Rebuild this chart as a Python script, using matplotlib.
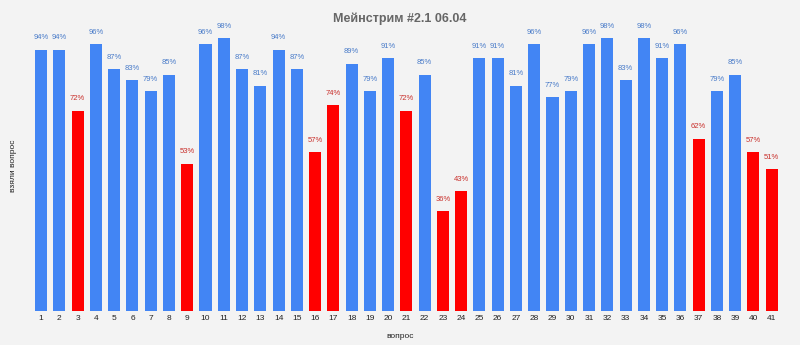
import matplotlib
matplotlib.use("Agg")
import matplotlib.pyplot as plt

plt.rcParams['font.family'] = ['Liberation Sans', 'DejaVu Sans']

questions = list(range(1, 42))
values = [94, 94, 72, 96, 87, 83, 79, 85, 53, 96, 98, 87, 81, 94, 87, 57, 74, 89, 79, 91,
          72, 85, 36, 43, 91, 91, 81, 96, 77, 79, 96, 98, 83, 98, 91, 96, 62, 79, 85, 57, 51]
threshold = 75
title = "Мейнстрим #2.1 06.04"
xlabel = "вопрос"
ylabel = "взяли вопрос"

bg = "#f3f3f3"
blue = "#4285f4"
red = "#ff0000"
blue_txt = "#4a7cc9"
red_txt = "#c9302c"

fig = plt.figure(figsize=(8, 3.45), dpi=100, facecolor=bg)
ax = fig.add_axes([0.04, 0.0986, 0.936, 0.806])
ax.set_facecolor(bg)

colors = [red if v < threshold else blue for v in values]
ax.bar(questions, values, width=0.66, color=colors)
for q, v in zip(questions, values):
    ax.text(q, v + 3.0, f"{v}%", ha="center", va="bottom", fontsize=5.5,
            color=red_txt if v < threshold else blue_txt, clip_on=False)

ax.set_xlim(0.5, 41.5)
ax.set_ylim(0, 100)
ax.set_xticks(questions)
ax.set_xticklabels([str(q) for q in questions], fontsize=6, color="#222222")
ax.tick_params(axis="x", length=0, pad=3)
ax.set_yticks([])
for s in ax.spines.values():
    s.set_visible(False)

fig.text(0.5, 0.025, xlabel, ha="center", va="center", fontsize=6, color="#222222")
fig.text(0.017, 0.52, ylabel, ha="center", va="center", rotation=90, fontsize=6, color="#222222")
fig.text(0.5, 0.945, title, ha="center", va="center", fontsize=9, fontweight="bold", color="#666666")

fig.savefig("out.png", dpi=100, facecolor=bg)
